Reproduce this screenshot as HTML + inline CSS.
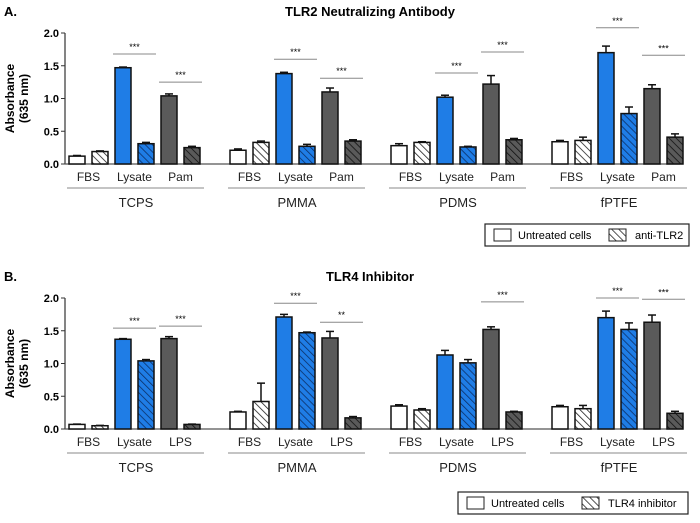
<!DOCTYPE html>
<html><head><meta charset="utf-8"><style>
body{margin:0;background:#fff;width:700px;height:518px;overflow:hidden}
svg{font-family:"Liberation Sans",Arial,sans-serif}
</style></head><body>
<svg id="c" width="700" height="518" xmlns="http://www.w3.org/2000/svg">
<defs>
<pattern id="hw" width="5" height="5" patternUnits="userSpaceOnUse" patternTransform="rotate(-45)"><rect width="5" height="5" fill="#fff"/><line x1="0" y1="0" x2="0" y2="5" stroke="#222" stroke-width="1.6"/></pattern>
<pattern id="hb" width="5" height="5" patternUnits="userSpaceOnUse" patternTransform="rotate(-45)"><rect width="5" height="5" fill="#1f7de6"/><line x1="0" y1="0" x2="0" y2="5" stroke="#0b2f66" stroke-width="1.6"/></pattern>
<pattern id="hg" width="5" height="5" patternUnits="userSpaceOnUse" patternTransform="rotate(-45)"><rect width="5" height="5" fill="#5a5a5a"/><line x1="0" y1="0" x2="0" y2="5" stroke="#111" stroke-width="1.6"/></pattern>
</defs>
</svg>
<script>
const materials=["TCPS","PMMA","PDMS","fPTFE"];
const catsA=["FBS","Lysate","Pam"];
const catsB=["FBS","Lysate","LPS"];
const valsA=[[0.12,0.19,1.47,0.31,1.04,0.25],[0.21,0.33,1.38,0.27,1.10,0.35],[0.28,0.33,1.02,0.26,1.22,0.37],[0.34,0.36,1.70,0.77,1.15,0.41]];
const errA=[[0.01,0.01,0.01,0.02,0.03,0.02],[0.02,0.02,0.02,0.03,0.06,0.02],[0.03,0.01,0.03,0.01,0.13,0.02],[0.02,0.05,0.10,0.10,0.06,0.05]];
const sigA=[[1.68,1.25],[1.60,1.31],[1.39,1.71],[2.08,1.66]];
const starsA=[["***","***"],["***","***"],["***","***"],["***","***"]];
const valsB=[[0.07,0.05,1.37,1.04,1.38,0.07],[0.26,0.42,1.71,1.47,1.39,0.17],[0.35,0.29,1.13,1.01,1.52,0.26],[0.34,0.31,1.70,1.52,1.63,0.24]];
const errB=[[0.005,0.005,0.01,0.02,0.03,0.005],[0.01,0.28,0.04,0.01,0.10,0.02],[0.02,0.02,0.07,0.05,0.04,0.01],[0.02,0.05,0.10,0.10,0.11,0.03]];
const sigB=[[1.54,1.57],[1.92,1.63],[null,1.94],[2.0,1.98]];
const starsB=[["***","***"],["***","**"],["","***"],["***","***"]];
const yTicks=[0,0.5,1.0,1.5,2.0];
const tickLabels=["0.0","0.5","1.0","1.5","2.0"];

const svg=document.getElementById('c');const NS="http://www.w3.org/2000/svg";
function el(t,a,txt){const e=document.createElementNS(NS,t);for(const k in a)e.setAttribute(k,a[k]);if(txt!==undefined)e.textContent=txt;svg.appendChild(e);return e;}
const fills=["#fff","url(#hw)","#1f7de6","url(#hb)","#5a5a5a","url(#hg)"];
function panel(y0,letter,title,cats,vals,errs,sigs,stars,legTxt,leg,pid){
  const y=v=>y0-v*65.5;
  const xg=g=>69+g*161;const xb=(g,i)=>xg(g)+i*23;
  let e=el('text',{x:4,y:y0-148,'font-size':13,'font-weight':'bold'},letter);
  
  e=el('text',{x:370,y:y0-148,'font-size':13,'font-weight':'bold','text-anchor':'middle'},title);
  
  e=el('text',{transform:`translate(14,${y(1)}) rotate(-90)`,'font-size':12,'font-weight':'bold','text-anchor':'middle'});
  
  const t1=document.createElementNS(NS,'tspan');t1.setAttribute('x',0);t1.setAttribute('dy',0);t1.textContent='Absorbance';e.appendChild(t1);
  const t2=document.createElementNS(NS,'tspan');t2.setAttribute('x',0);t2.setAttribute('dy',14);t2.textContent='(635 nm)';e.appendChild(t2);
  e=el('line',{x1:65,y1:y(2),x2:65,y2:y0,stroke:'#333','stroke-width':1.2});
  
  e=el('line',{x1:65,y1:y0,x2:680,y2:y0,stroke:'#555','stroke-width':1.2});
  
  yTicks.forEach((t,i)=>{el('line',{x1:61,x2:65,y1:y(t),y2:y(t),stroke:'#333'});
    e=el('text',{x:59,y:y(t)+4,'font-size':11,'font-weight':'bold','text-anchor':'end'},tickLabels[i]);
    });
  materials.forEach((m,g)=>{
    vals[g].forEach((v,i)=>{const x=xb(g,i);const ey=y(v+errs[g][i]);
      el('line',{x1:x+8,x2:x+8,y1:y(v),y2:ey,stroke:'#111','stroke-width':1.5});
      el('line',{x1:x+4,x2:x+12,y1:ey,y2:ey,stroke:'#111','stroke-width':1.5});
      e=el('rect',{x:x,y:y(v),width:16,height:v*65.5,fill:fills[i],stroke:'#111','stroke-width':1.5});
      });
    cats.forEach((c,k)=>{e=el('text',{x:xb(g,2*k)+19.5,y:y0+17,'font-size':12,'text-anchor':'middle',fill:'#222'},c);
      });
    el('line',{x1:xg(g)-2,x2:xg(g)+135,y1:y0+24,y2:y0+24,stroke:'#888'});
    e=el('text',{x:xg(g)+67,y:y0+43,'font-size':13,'text-anchor':'middle',fill:'#222'},m);
    
    sigs[g].forEach((s,k)=>{if(s===null)return;const x1=xb(g,2*k+2)-2,x2=xb(g,2*k+3)+18;
      el('line',{x1:x1,x2:x2,y1:y(s),y2:y(s),stroke:'#888'});
      e=el('text',{x:(x1+x2)/2,y:y(s)-4,'font-size':9,'text-anchor':'middle'},stars[g][k]);
      });
  });
  e=el('rect',{x:leg[0],y:leg[1],width:leg[2],height:22,fill:'#fff',stroke:'#222','stroke-width':1.2});
  
  el('rect',{x:leg[0]+9,y:leg[1]+5,width:17,height:12,fill:'#fff',stroke:'#222'});
  e=el('text',{x:leg[0]+33,y:leg[1]+15,'font-size':11},'Untreated cells');
  
  el('rect',{x:leg[0]+124,y:leg[1]+5,width:17,height:12,fill:'url(#hw)',stroke:'#222'});
  e=el('text',{x:leg[0]+150,y:leg[1]+15,'font-size':11},legTxt);
  
}
panel(164,'A.','TLR2 Neutralizing Antibody',catsA,valsA,errA,sigA,starsA,'anti-TLR2',[485,224,204],'panel-a');
panel(429,'B.','TLR4 Inhibitor',catsB,valsB,errB,sigB,starsB,'TLR4 inhibitor',[458,492,230],'panel-b');
</script>
</body></html>
